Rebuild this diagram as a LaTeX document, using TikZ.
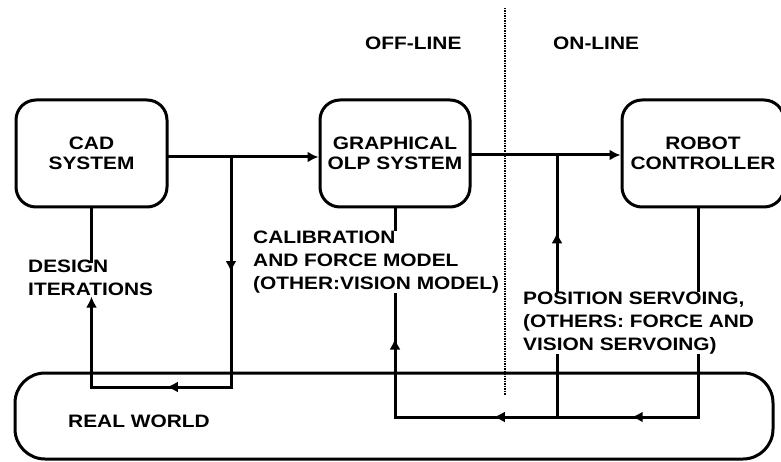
\documentclass[tikz,border=0pt]{standalone}
\usepackage{fontspec}
\setmainfont[FakeStretch=1.16]{Liberation Sans}
\usetikzlibrary{arrows.meta, decorations.markings}

\begin{document}
\begin{tikzpicture}[x=1pt, y=-1pt,
  font=\fontsize{18}{23}\selectfont\bfseries,
  box/.style={draw, line width=3pt, rounded corners=20pt, align=center, inner sep=0pt,
    font=\fontsize{18}{19.5}\selectfont\bfseries},
  lbl/.style={align=left, inner sep=1pt},
  wire/.style={line width=3pt, line cap=rect},
  arr/.style={wire, -{Latex[length=11pt,width=11pt]}},
  midarr/.style={wire, postaction=decorate,
    decoration={markings, mark=at position #1 with {\arrow{Latex[length=11pt,width=11pt]}}}}
]
\useasboundingbox (0,0) rectangle (781,462);
\clip (0,0) rectangle (781,462);

% blocks
\node[box, minimum width=151pt, minimum height=107pt] (cad) at (91.5,153.5) {CAD\\SYSTEM};
\node[box, minimum width=150pt, minimum height=107pt] (olp) at (395,153.5) {GRAPHICAL\\OLP SYSTEM};
\node[box, minimum width=162pt, minimum height=107pt] (robot) at (703,153.5) {ROBOT\\CONTROLLER};
\node[box, rounded corners=30pt, minimum width=758pt, minimum height=86pt] (world) at (394,416) {};

% labels
\node[lbl, anchor=west] (offline) at (364,43) {OFF-LINE};
\node[lbl, anchor=west] (online) at (552,43) {ON-LINE};
\node[lbl, anchor=west] (design) at (27,277.5) {DESIGN\\ITERATIONS};
\node[lbl, anchor=west] (calib) at (252,262) {CALIBRATION\\AND FORCE MODEL\\(OTHER:VISION MODEL)};
\node[lbl, anchor=west] (servo) at (522,323) {POSITION SERVOING,\\(OTHERS: FORCE AND\\VISION SERVOING)};
\node[lbl, anchor=west] (worldlabel) at (67,421.5) {REAL WORLD};

% off-line / on-line border
\coordinate (dtop) at (505,8);
\coordinate (dbot) at (505,395);
\draw[line width=2pt, dash pattern=on 1.5pt off 1pt] (dtop) -- (dbot);

% junctions
\coordinate (j1) at (231,157);
\coordinate (j2) at (557,155);
\coordinate (c1) at (j1 |- 0,387);
\coordinate (c2) at (cad.south |- c1);
\coordinate (c4) at (698,417);
\coordinate (c5) at (j2 |- c4);
\coordinate (c3) at (olp.south |- c4);

% forward path
\draw[arr] (j1 -| cad.east) -- (j1 -| olp.west);
\draw[arr] (j2 -| olp.east) -- (j2 -| robot.west);

% design loop
\draw[midarr=0.5] (j1) -- (c1);
\draw[midarr=0.46] (c1) -- (c2);
\draw[arr] (c2) -- (c2 |- design.south);
\draw[wire] (cad.south) -- ([yshift=-3pt]cad.south |- design.north);

% calibration loop
\draw[wire] (olp.south) -- (olp.south |- calib.north);
\draw[midarr=0.64] (c3) -- (c3 |- calib.south);

% servoing loop
\draw[wire] (c4 |- robot.south) -- (c4 |- servo.north);
\draw[wire] (c4 |- servo.south) -- (c4);
\draw[midarr=0.47] (c4) -- (c5);
\draw[midarr=0.39] (c5) -- (c3);
\draw[wire] (c5) -- (c5 |- servo.south);
\draw[midarr=0.43] (c5 |- servo.north) -- (j2);

\end{tikzpicture}
\end{document}
